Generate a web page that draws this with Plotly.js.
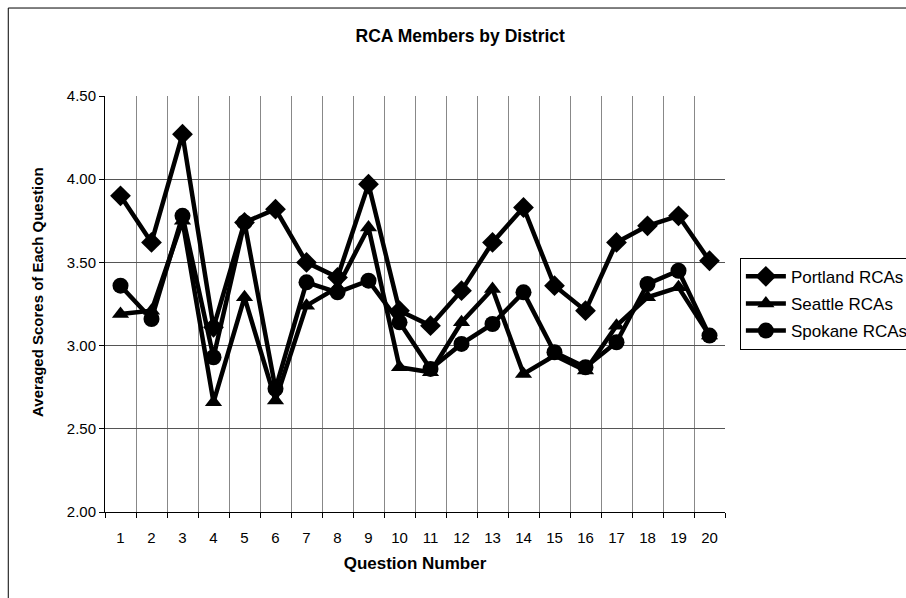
<!DOCTYPE html>
<html>
<head>
<meta charset="utf-8">
<script src="https://cdn.plot.ly/plotly-3.0.1.min.js"></script>
<style>html,body{margin:0;padding:0;background:#fff;}#chart{width:906px;height:598px;}</style>
</head>
<body>
<div id="chart"></div>
<script>
var questions = [1,2,3,4,5,6,7,8,9,10,11,12,13,14,15,16,17,18,19,20];
var portland = [3.90,3.62,4.27,3.11,3.74,3.82,3.50,3.41,3.97,3.21,3.12,3.33,3.62,3.83,3.36,3.21,3.62,3.72,3.78,3.51];
var seattle  = [3.19,3.21,3.75,2.66,3.29,2.67,3.24,3.35,3.71,2.87,2.84,3.14,3.34,2.83,2.94,2.85,3.12,3.29,3.35,3.06];
var spokane  = [3.36,3.16,3.78,2.93,3.74,2.74,3.38,3.32,3.39,3.14,2.86,3.01,3.13,3.32,2.96,2.87,3.02,3.37,3.45,3.06];
var yTicks = [2.0,2.5,3.0,3.5,4.0,4.5];
var yTickText = ["2.00","2.50","3.00","3.50","4.00","4.50"];

var FONT = "Liberation Sans, Arial, sans-serif";
function tr(name, y, sym, size){
  return {x: questions, y: y, name: name, legendgroup: name, type: "scatter", mode: "lines+markers",
    line: {color: "#000", width: 4.5},
    marker: {symbol: sym, size: size, color: "#000"}};
}
var data = [
  tr("Portland RCAs", portland, "diamond", 16),
  tr("Seattle RCAs", seattle, "triangle-up", 15),
  tr("Spokane RCAs", spokane, "circle", 16)
];
var layout = {
  width: 906, height: 598,
  margin: {l: 105, r: 181, t: 96, b: 86, autoexpand: false},
  paper_bgcolor: "#fff", plot_bgcolor: "#fff",
  font: {family: FONT, color: "#000", size: 15},
  title: {text: "<b>RCA Members by District</b>", x: 0.508, xanchor: "center", y: 0.94, yanchor: "middle", font: {size: 17.5, family: FONT}},
  showlegend: true,
  legend: {x: 1.024, xanchor: "left", y: 0.611, yanchor: "top", bordercolor: "#000", borderwidth: 1, bgcolor: "#fff",
    font: {size: 17, family: FONT}, traceorder: "grouped", tracegroupgap: 2, itemwidth: 40},
  xaxis: {range: [0.5, 20.5], tickmode: "array", tickvals: questions, ticktext: questions.map(String),
    showgrid: false, zeroline: false, showline: true, linecolor: "#000", linewidth: 1, ticks: "",
    ticklabelstandoff: 12,
    minor: {tick0: 0.5, dtick: 1, showgrid: true, gridcolor: "#888", gridwidth: 1, ticks: "outside", ticklen: 5, tickcolor: "#000"},
    title: {text: "<b>Question Number</b>", font: {size: 17, family: FONT}, standoff: 12}, fixedrange: true},
  yaxis: {range: [2, 4.5], tickmode: "array", tickvals: yTicks, ticktext: yTickText,
    showgrid: true, gridcolor: "#555", gridwidth: 1, zeroline: false, showline: true, linecolor: "#000", linewidth: 1,
    ticks: "outside", ticklen: 5, tickcolor: "#000", fixedrange: true},
  annotations: [{text: "<b>Averaged Scores of Each Question</b>", xref: "paper", yref: "paper", x: -0.108, y: 0.529,
    xanchor: "center", yanchor: "middle", textangle: -90, showarrow: false, font: {size: 15, family: FONT}}],
  shapes: [{type: "rect", xref: "paper", yref: "paper", x0: -0.156, x1: 1.32, y0: -0.25, y1: 1.2115, line: {color: "#000", width: 1}}]
};
Plotly.newPlot("chart", data, layout, {staticPlot: true});
</script>
</body>
</html>
